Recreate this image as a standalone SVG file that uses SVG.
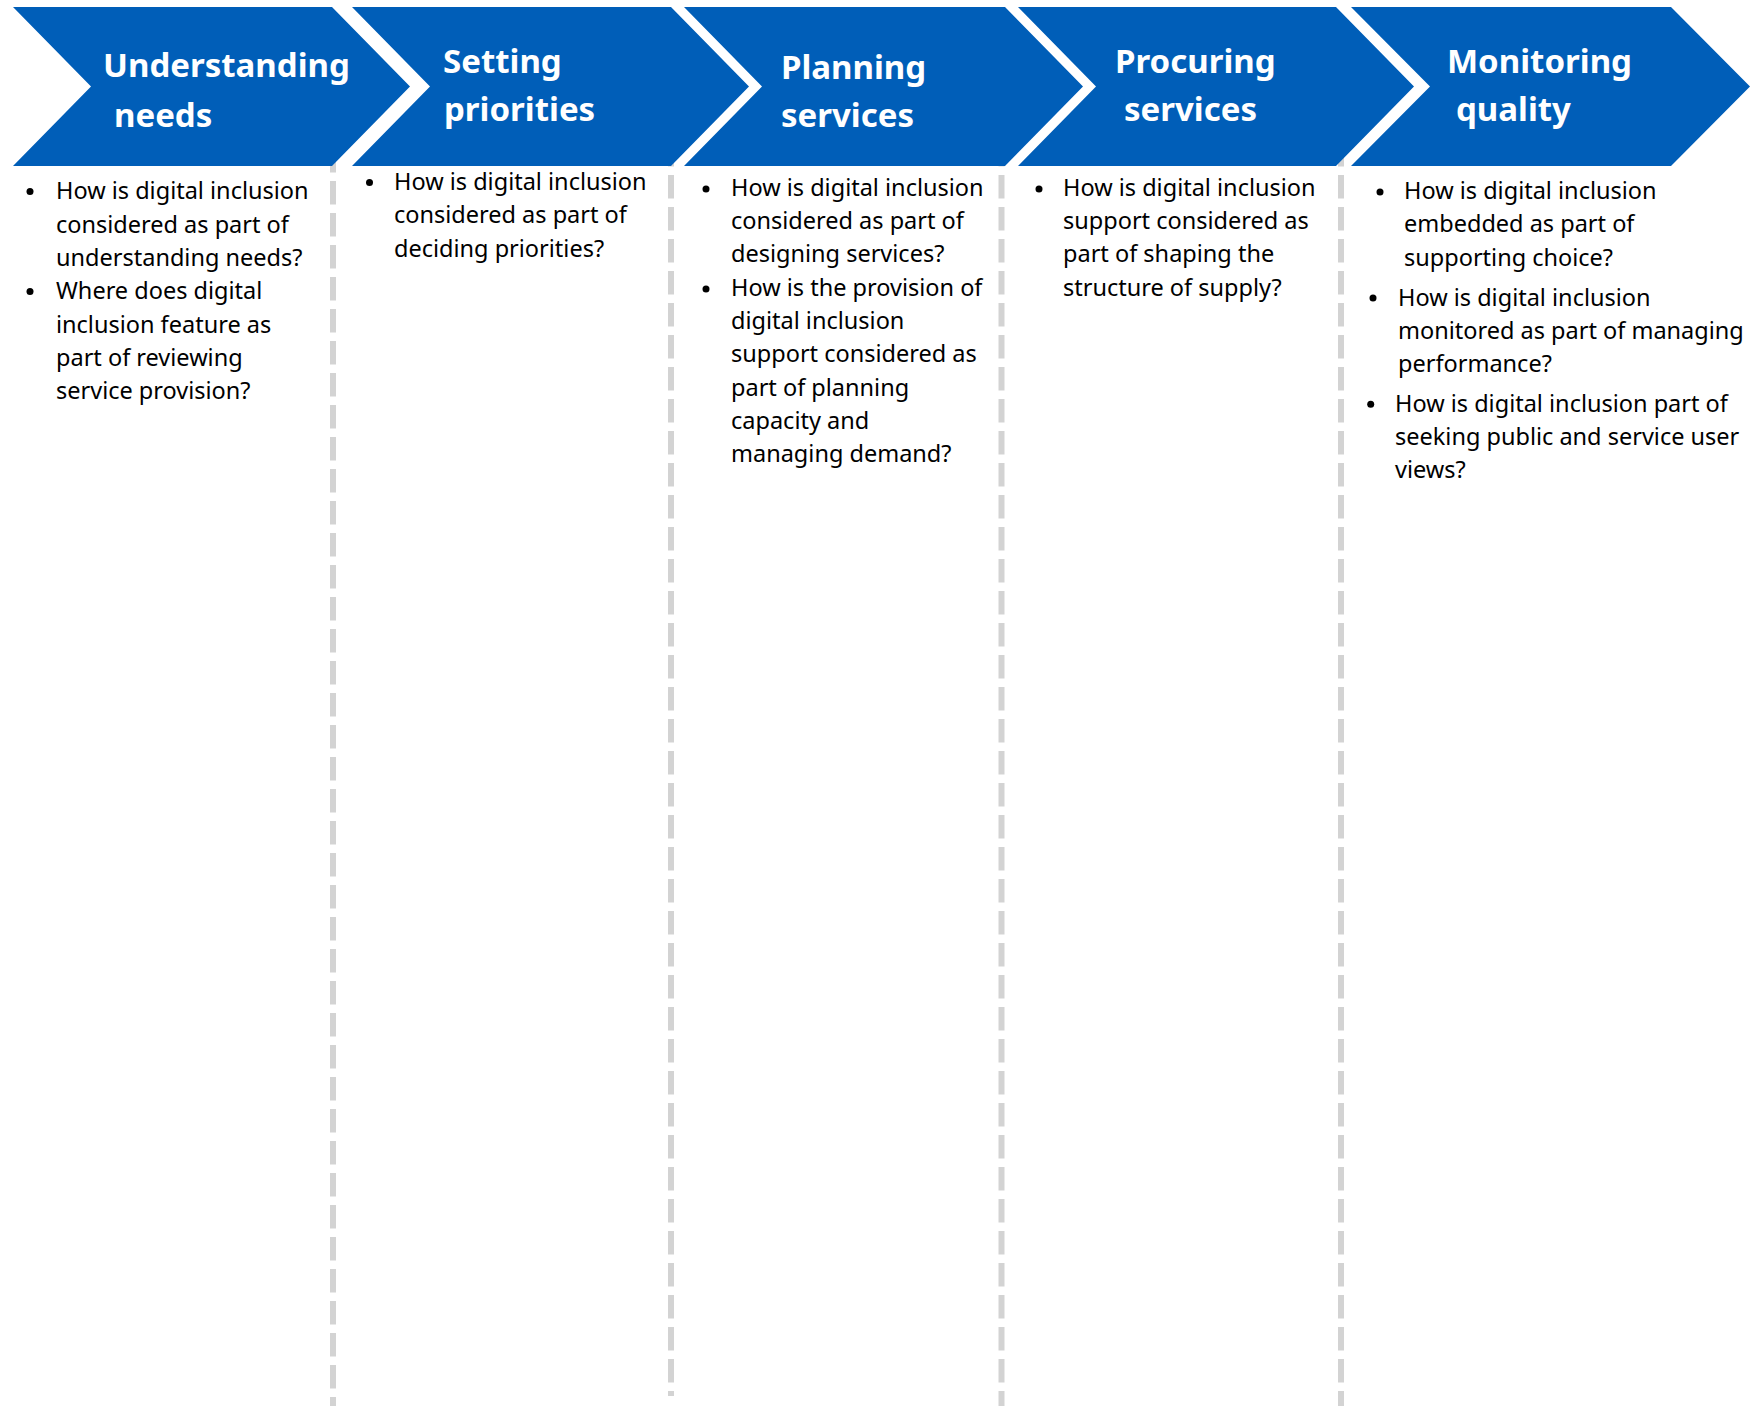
<svg xmlns="http://www.w3.org/2000/svg" width="1758" height="1406" viewBox="0 0 1758 1406">
<style>
.chev{fill:#005EB8}
.head{font-family:"Noto Sans","Open Sans",sans-serif;font-weight:bold;font-size:33px;fill:#ffffff}
.body{font-family:"Noto Sans","Open Sans",sans-serif;font-size:23.5px;fill:#000000}
.bul{fill:#000000}
.dash{stroke:#D3D3D3;stroke-width:6;stroke-dasharray:23.5 8.5;fill:none}
</style>
<rect width="1758" height="1406" fill="#ffffff"/>
<g id="connectors">
<line class="dash" x1="333" y1="149" x2="333" y2="1406"/>
<line class="dash" x1="671" y1="143" x2="671" y2="1396"/>
<line class="dash" x1="1001.5" y1="143" x2="1001.5" y2="1406"/>
<line class="dash" x1="1341" y1="143" x2="1341" y2="1406"/>
</g>
<g id="node-understanding">
<polygon class="chev" points="13,7 332,7 410,86.5 332,166 13,166 91,86.5"/>
<text class="head" x="103" y="77">Understanding</text>
<text class="head" x="114" y="127">needs</text>
</g>
<g id="node-setting">
<polygon class="chev" points="352,7 671,7 749,86.5 671,166 352,166 430,86.5"/>
<text class="head" x="443" y="73">Setting</text>
<text class="head" x="444" y="121">priorities</text>
</g>
<g id="node-planning">
<polygon class="chev" points="684,7 1005,7 1083,86.5 1005,166 684,166 762,86.5"/>
<text class="head" x="781" y="79">Planning</text>
<text class="head" x="781" y="127">services</text>
</g>
<g id="node-procuring">
<polygon class="chev" points="1018,7 1336,7 1414,86.5 1336,166 1018,166 1096,86.5"/>
<text class="head" x="1115" y="73">Procuring</text>
<text class="head" x="1124" y="121">services</text>
</g>
<g id="node-monitoring">
<polygon class="chev" points="1351,7 1671,7 1750,86.5 1671,166 1351,166 1430,86.5"/>
<text class="head" x="1447" y="73">Monitoring</text>
<text class="head" x="1456" y="121">quality</text>
</g>
<g id="text-col1">
<circle class="bul" cx="30" cy="191.5" r="3.5"/>
<text class="body"><tspan x="56" y="199">How is digital inclusion</tspan><tspan x="56" y="232.5">considered as part of</tspan><tspan x="56" y="266">understanding needs?</tspan></text>
<circle class="bul" cx="30" cy="291.5" r="3.5"/>
<text class="body"><tspan x="56" y="299">Where does digital</tspan><tspan x="56" y="332.5">inclusion feature as</tspan><tspan x="56" y="366">part of reviewing</tspan><tspan x="56" y="399">service provision?</tspan></text>
</g>
<g id="text-col2">
<circle class="bul" cx="369.5" cy="182.5" r="3.5"/>
<text class="body"><tspan x="394" y="190">How is digital inclusion</tspan><tspan x="394" y="223.3">considered as part of</tspan><tspan x="394" y="256.7">deciding priorities?</tspan></text>
</g>
<g id="text-col3">
<circle class="bul" cx="706" cy="189" r="3.5"/>
<text class="body"><tspan x="731" y="195.7">How is digital inclusion</tspan><tspan x="731" y="229">considered as part of</tspan><tspan x="731" y="262.3">designing services?</tspan></text>
<circle class="bul" cx="706" cy="289" r="3.5"/>
<text class="body"><tspan x="731" y="295.7">How is the provision of</tspan><tspan x="731" y="329">digital inclusion</tspan><tspan x="731" y="362.3">support considered as</tspan><tspan x="731" y="395.7">part of planning</tspan><tspan x="731" y="429">capacity and</tspan><tspan x="731" y="462.3">managing demand?</tspan></text>
</g>
<g id="text-col4">
<circle class="bul" cx="1039" cy="189" r="3.5"/>
<text class="body"><tspan x="1063" y="195.7">How is digital inclusion</tspan><tspan x="1063" y="229">support considered as</tspan><tspan x="1063" y="262.3">part of shaping the</tspan><tspan x="1063" y="295.7">structure of supply?</tspan></text>
</g>
<g id="text-col5">
<circle class="bul" cx="1380" cy="192" r="3.5"/>
<text class="body"><tspan x="1404" y="199">How is digital inclusion</tspan><tspan x="1404" y="232.3">embedded as part of</tspan><tspan x="1404" y="265.7">supporting choice?</tspan></text>
<circle class="bul" cx="1373" cy="298" r="3.5"/>
<text class="body"><tspan x="1398" y="305.7">How is digital inclusion</tspan><tspan x="1398" y="339">monitored as part of managing</tspan><tspan x="1398" y="372.3">performance?</tspan></text>
<circle class="bul" cx="1370.7" cy="404.3" r="3.5"/>
<text class="body"><tspan x="1395" y="411.7">How is digital inclusion part of</tspan><tspan x="1395" y="445">seeking public and service user</tspan><tspan x="1395" y="478.3">views?</tspan></text>
</g>
</svg>
